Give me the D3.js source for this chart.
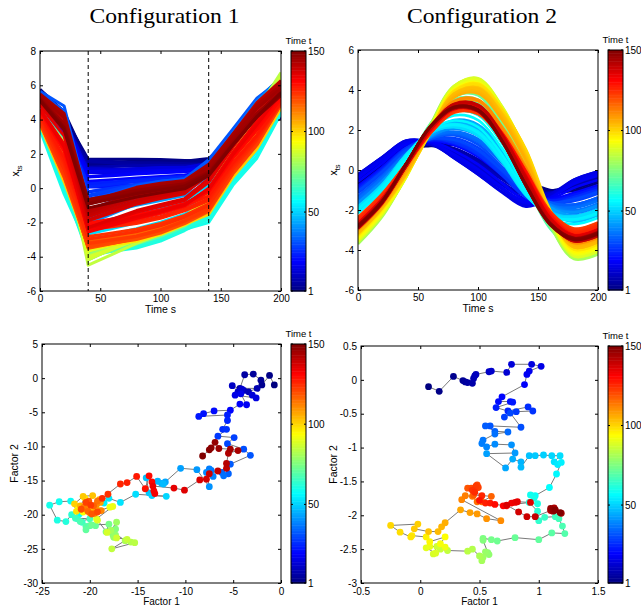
<!DOCTYPE html>
<html>
<head>
<meta charset="utf-8">
<script src="https://cdn.jsdelivr.net/npm/d3@7"></script>
<style>
  body { margin: 0; background: #fff; }
  svg text { font-family: "Liberation Sans", Arial, Helvetica, sans-serif; fill: #000; }
</style>
</head>
<body>
<svg id="chart" width="641" height="605"></svg>
<script>
// ---- data -----------------------------------------------------------------
// functional argument s (knots of the component curves)
const sGrid = [0, 20, 40, 60, 80, 100, 120, 140, 160, 180, 200];

// configuration 1: mean curve and factor loadings on the s grid
const c1Mean  = [5.82, 4.54, 1.66, 1.72, 1.79, 1.79, 1.72, 1.82, 2.97, 4.21, 4.79];
const c1LoadA = [0.113, 0.28, 0.048, 0.088, 0.128, 0.133, 0.116, 0.188, 0.189, 0.22, 0.156];
const c1LoadB = [-0.017, -0.102, 0.212, 0.161, 0.110, 0.085, 0.071, -0.039, -0.095, -0.154, -0.18];

// configuration 2: mean curve and factor loadings on the s grid
const c2Mean  = [-0.5, 0.4, 1.05, 1.15, 1.15, 0.7, 0.05, -0.5, -0.9, -0.8, -0.4];
const c2LoadA = [0, 0, 0.3, 0.3, -0.3, -0.6, -0.9, -1.2, -0.6, 0, 0];
const c2LoadB = [1.2, 1.03, 0.57, -0.34, -1.2, -1.54, -1.26, -0.57, 0.57, 1.37, 1.43];

// factor scores for t = 1..150, configuration 1
const c1Factor1 = [
  -0.7,-1.2,-2.0,-2.1,-2.9,-3.8,-4.3,-2.5,-3.4,-3.9,
  -5.1,-4.5,-4.1,-3.0,-2.6,-4.8,-4.2,-3.6,-4.3,-5.3,
  -7.0,-8.1,-8.6,-5.6,-5.6,-6.1,-5.7,-6.6,-4.9,-5.6,
  -3.9,-3.2,-5.3,-5.5,-6.2,-6.0,-7.3,-7.5,-7.1,-7.8,
  -7.5,-8.8,-10.5,-12.1,-12.5,-12.9,-12.3,-14.1,-13.8,-13.5,
  -12.0,-15.2,-16.8,-18.0,-18.5,-20.0,-21.1,-22.0,-23.2,-24.2,
  -23.4,-22.5,-21.9,-21.3,-20.8,-21.5,-20.0,-21.0,-20.4,-20.0,
  -20.4,-19.4,-19.8,-18.0,-18.3,-17.3,-17.6,-17.3,-17.5,-17.2,
  -17.8,-16.3,-15.7,-15.3,-17.7,-16.1,-17.2,-18.2,-19.2,-19.3,
  -17.6,-17.9,-19.0,-20.7,-21.2,-19.6,-20.5,-21.4,-20.2,-19.8,
  -21.6,-20.7,-19.7,-20.3,-21.0,-19.4,-19.0,-18.9,-20.4,-20.0,
  -19.3,-18.8,-20.6,-19.5,-19.2,-20.2,-19.6,-20.1,-19.8,-20.9,
  -19.2,-20.4,-19.9,-18.1,-18.7,-16.8,-16.1,-15.1,-14.2,-13.8,
  -13.5,-13.3,-13.2,-13.4,-11.2,-10.1,-8.5,-7.8,-7.5,-6.6,
  -5.7,-5.7,-5.5,-4.5,-5.3,-6.5,-6.9,-7.3,-7.5,-8.2
];
const c1Factor2 = [
  -1.0,0.4,-1.0,-0.3,0.6,0.5,-1.5,-1.5,-2.0,-1.8,
  -1.1,-2.0,-1.6,-2.5,-2.9,-2.5,-2.3,-3.9,-3.8,-4.7,
  -4.8,-5.2,-5.6,-5.4,-6.2,-7.5,-7.5,-8.5,-8.7,-9.6,
  -10.4,-11.3,-12.6,-14.0,-13.8,-14.3,-13.5,-13.3,-14.4,-13.8,
  -15.9,-13.4,-13.2,-15.2,-15.4,-15.1,-15.5,-14.6,-16.8,-17.2,
  -17.3,-17.0,-18.2,-17.6,-18.3,-19.2,-19.9,-18.0,-18.1,-18.6,
  -20.8,-21.0,-20.0,-20.6,-21.1,-20.5,-20.6,-21.0,-21.7,-21.6,
  -22.2,-21.6,-21.5,-21.4,-22.5,-22.1,-22.9,-23.0,-23.3,-21.1,
  -22.3,-23.8,-24.0,-24.1,-25.0,-23.6,-23.4,-22.6,-20.8,-20.6,
  -18.8,-18.9,-19.4,-19.6,-19.0,-19.3,-17.6,-19.5,-18.6,-18.9,
  -18.4,-17.3,-17.2,-18.4,-18.7,-19.0,-17.8,-18.2,-19.1,-19.7,
  -18.5,-19.4,-18.9,-19.8,-18.0,-19.5,-18.7,-18.0,-19.9,-19.2,
  -19.6,-18.2,-18.6,-17.0,-17.6,-15.5,-15.3,-14.4,-16.2,-14.3,
  -15.2,-16.5,-16.9,-15.8,-16.1,-16.4,-14.9,-14.8,-14.0,-13.6,
  -13.2,-12.5,-11.0,-10.6,-10.4,-10.3,-9.4,-10.2,-10.5,-11.4
];

// factor scores for t = 1..150, configuration 2
const c2Factor1 = [
  0.07,0.16,0.28,0.36,0.38,0.40,0.44,0.45,0.46,0.47,
  0.58,0.60,0.73,0.77,0.94,1.02,0.92,0.90,0.88,0.69,
  0.66,0.76,0.78,0.64,0.74,0.91,0.95,0.81,0.71,0.76,
  0.85,0.59,0.55,0.63,0.74,0.63,0.53,0.52,0.56,0.63,
  0.77,0.80,0.56,0.72,0.78,0.85,0.85,0.92,0.97,1.04,
  1.11,1.18,1.13,1.16,1.19,1.15,1.09,0.97,0.93,0.96,
  0.99,0.92,0.99,1.00,1.05,1.14,1.17,1.20,1.22,1.11,
  1.00,0.80,0.65,0.60,0.53,0.53,0.57,0.58,0.55,0.53,
  0.52,0.50,0.44,0.40,0.23,0.17,0.14,0.11,0.13,0.05,
  0.08,0.21,0.17,0.21,0.08,0.05,-0.07,-0.08,-0.17,-0.25,
  -0.02,-0.05,0.07,0.15,0.18,0.21,0.34,0.42,0.48,0.56,
  0.68,0.35,0.38,0.44,0.48,0.52,0.60,0.45,0.40,0.43,
  0.48,0.49,0.47,0.44,0.46,0.52,0.55,0.59,0.50,0.63,
  0.73,0.70,0.77,0.80,0.82,0.93,0.73,0.83,0.90,0.97,
  1.10,1.12,1.13,1.11,1.19,1.12,1.10,1.13,1.14,1.18
];
const c2Factor2 = [
  -0.10,-0.17,0.05,-0.01,-0.03,-0.04,-0.05,0.02,0.06,0.08,
  0.12,0.13,0.11,0.23,0.23,0.20,0.13,0.08,-0.07,-0.25,
  -0.32,-0.32,-0.33,-0.41,-0.46,-0.40,-0.46,-0.47,-0.55,-0.49,
  -0.70,-0.68,-0.68,-0.76,-0.77,-0.80,-0.89,-0.94,-0.99,-0.95,
  -0.96,-1.08,-1.09,-1.30,-1.17,-1.21,-1.29,-1.12,-1.12,-1.11,
  -1.12,-1.12,-1.21,-1.25,-1.22,-1.39,-1.59,-1.71,-1.70,-1.75,
  -1.83,-1.81,-1.94,-2.08,-2.03,-2.02,-2.05,-2.16,-2.27,-2.26,
  -2.36,-2.33,-2.38,-2.36,-2.34,-2.37,-2.55,-2.58,-2.54,-2.62,
  -2.67,-2.60,-2.50,-2.53,-2.52,-2.50,-2.46,-2.57,-2.56,-2.48,
  -2.46,-2.47,-2.42,-2.32,-2.39,-2.32,-2.30,-2.32,-2.25,-2.15,
  -2.13,-2.20,-2.24,-2.24,-2.17,-2.11,-1.92,-1.96,-1.98,-2.05,
  -2.08,-1.77,-1.71,-1.72,-1.80,-1.80,-1.72,-1.70,-1.60,-1.60,
  -1.55,-1.59,-1.57,-1.63,-1.66,-1.71,-1.82,-1.82,-1.78,-1.84,
  -1.86,-1.86,-1.82,-1.81,-1.80,-1.81,-1.85,-1.95,-2.02,-2.02,
  -1.93,-1.91,-1.89,-1.92,-1.97,-1.94,-1.90,-1.93,-1.92,-1.96
];

// axis ticks
const sTicks       = [0, 50, 100, 150, 200];
const c1CurveTicks = [-6, -4, -2, 0, 2, 4, 6, 8];
const c2CurveTicks = [-6, -4, -2, 0, 2, 4, 6];
const c1F1Ticks    = [-25, -20, -15, -10, -5, 0];
const c1F2Ticks    = [-30, -25, -20, -15, -10, -5, 0, 5];
const c2F1Ticks    = [-0.5, 0, 0.5, 1, 1.5];
const c2F2Ticks    = [-3, -2.5, -2, -1.5, -1, -0.5, 0, 0.5];
const timeTicks    = [1, 50, 100, 150];
const c1Breaks     = [40, 140];
const titles       = ["Configuration 1", "Configuration 2"];

// ---- drawing --------------------------------------------------------------
const svg = d3.select("#chart");
const T = d3.range(1, 151);

// MATLAB "jet" colormap over t = 1..150
const jet = d3.scaleLinear()
  .domain([0, 0.125, 0.375, 0.625, 0.875, 1].map(p => 1 + 149 * p))
  .range(["#000080", "#0000ff", "#00ffff", "#ffff00", "#ff0000", "#800000"])
  .clamp(true);

const fmt = d => String(d);

function axesFrame(box, x, y, xTicks, yTicks, pad) {
  const g = svg.append("g");
  const style = sel => {
    sel.select(".domain").remove();
    sel.attr("font-family", null).attr("font-size", null);
    sel.selectAll("line").attr("stroke", "#000");
    sel.selectAll("text").attr("font-size", 10);
  };
  g.append("g").attr("transform", `translate(0,${box.y1})`)
    .call(d3.axisBottom(x).tickValues(xTicks).tickSize(-3).tickPadding(pad).tickFormat(fmt)).call(style);
  g.append("g").attr("transform", `translate(0,${box.y0})`)
    .call(d3.axisTop(x).tickValues(xTicks).tickSize(-3).tickFormat("")).call(style);
  g.append("g").attr("transform", `translate(${box.x0},0)`)
    .call(d3.axisLeft(y).tickValues(yTicks).tickSize(-3).tickPadding(4).tickFormat(fmt)).call(style);
  g.append("g").attr("transform", `translate(${box.x1},0)`)
    .call(d3.axisRight(y).tickValues(yTicks).tickSize(-3).tickFormat("")).call(style);
  g.append("rect")
    .attr("x", box.x0).attr("y", box.y0)
    .attr("width", box.x1 - box.x0).attr("height", box.y1 - box.y0)
    .attr("fill", "none").attr("stroke", "#000").attr("stroke-width", 1);
}

function colorbar(cb) {
  const g = svg.append("g");
  const ty = d3.scaleLinear().domain([1, 150]).range([cb.y1, cb.y0]);
  g.selectAll("rect.cell").data(T.slice(0, 149)).join("rect")
    .attr("x", cb.x0).attr("width", cb.x1 - cb.x0)
    .attr("y", t => ty(t + 1)).attr("height", t => ty(t) - ty(t + 1) + 0.5)
    .attr("fill", t => jet(t + 0.5));
  g.append("rect")
    .attr("x", cb.x0).attr("y", cb.y0)
    .attr("width", cb.x1 - cb.x0).attr("height", cb.y1 - cb.y0)
    .attr("fill", "none").attr("stroke", "#000");
  g.selectAll("line.tl").data(timeTicks).join("line")
    .attr("x1", cb.x0).attr("x2", cb.x0 + 2)
    .attr("y1", ty).attr("y2", ty).attr("stroke", "#000");
  g.selectAll("line.tr").data(timeTicks).join("line")
    .attr("x1", cb.x1 - 2).attr("x2", cb.x1)
    .attr("y1", ty).attr("y2", ty).attr("stroke", "#000");
  g.selectAll("text.tk").data(timeTicks).join("text")
    .attr("x", cb.x1 + 2).attr("y", ty).attr("dy", "0.35em")
    .attr("font-size", 10).text(fmt);
  g.append("text")
    .attr("x", (cb.x0 + cb.x1) / 2).attr("y", cb.y0 - 7)
    .attr("text-anchor", "middle").attr("font-size", 9.5).text("Time t");
}

function yLabel(x, y, build) {
  const t = svg.append("text")
    .attr("transform", `translate(${x},${y}) rotate(-90)`)
    .attr("text-anchor", "middle").attr("font-size", 10.5);
  build(t);
}

function xLabel(x, y, txt, size) {
  svg.append("text").attr("x", x).attr("y", y)
    .attr("text-anchor", "middle").attr("font-size", size).text(txt);
}

// panels: functional curves (top) and factor scores (bottom)
const panels = [
  { box: { x0: 40, x1: 281, y0: 51, y1: 291 }, cb: { x0: 291, x1: 306, y0: 51, y1: 291 },
    mean: c1Mean, la: c1LoadA, lb: c1LoadB, f1: c1Factor1, f2: c1Factor2, width: 3,
    yDom: [-6, 8], yTicks: c1CurveTicks, breaks: c1Breaks, title: titles[0], shape: d3.curveLinear },
  { box: { x0: 358, x1: 598, y0: 50, y1: 290 }, cb: { x0: 608, x1: 623, y0: 50, y1: 290 },
    mean: c2Mean, la: c2LoadA, lb: c2LoadB, f1: c2Factor1, f2: c2Factor2, width: 2.6,
    yDom: [-6, 6], yTicks: c2CurveTicks, breaks: [], title: titles[1], shape: d3.curveCatmullRom }
];

panels.forEach((p, i) => {
  const b = p.box;
  const x = d3.scaleLinear().domain([0, 200]).range([b.x0, b.x1]);
  const y = d3.scaleLinear().domain(p.yDom).range([b.y1, b.y0]);
  const clipId = "clipTop" + i;
  svg.append("clipPath").attr("id", clipId).append("rect")
    .attr("x", b.x0).attr("y", b.y0).attr("width", b.x1 - b.x0).attr("height", b.y1 - b.y0);

  // curve for time t: mean + f1_t * loadingA + f2_t * loadingB
  const curve = t => sGrid.map((s, k) => [s, p.mean[k] + p.f1[t - 1] * p.la[k] + p.f2[t - 1] * p.lb[k]]);
  const line = d3.line().curve(p.shape).x(d => x(d[0])).y(d => y(d[1]));
  svg.append("g").attr("clip-path", `url(#${clipId})`)
    .selectAll("path").data(T).join("path")
    .attr("d", t => line(curve(t)))
    .attr("fill", "none").attr("stroke", t => jet(t))
    .attr("stroke-width", p.width).attr("stroke-linejoin", "round");

  svg.append("g").selectAll("line").data(p.breaks).join("line")
    .attr("x1", d => x(d)).attr("x2", d => x(d))
    .attr("y1", b.y0).attr("y2", b.y1)
    .attr("stroke", "#000").attr("stroke-width", 1).attr("stroke-dasharray", "4,3");

  axesFrame(b, x, y, sTicks, p.yTicks, 3.9);
  colorbar(p.cb);
  xLabel((b.x0 + b.x1) / 2, b.y1 + 21.5, "Time s", 10.5);
  yLabel(b.x0 - 21, (b.y0 + b.y1) / 2, t => {
    t.append("tspan").text("x");
    t.append("tspan").attr("font-size", 7.5).attr("dy", 3).text("ts");
  });
  svg.append("text")
    .attr("x", (b.x0 + b.x1) / 2 + 4).attr("y", 23)
    .attr("text-anchor", "middle")
    .style("font-family", '"Liberation Serif", "Times New Roman", serif')
    .attr("font-size", 21)
    .attr("textLength", 150).attr("lengthAdjust", "spacingAndGlyphs")
    .text(p.title);
});

const scorePanels = [
  { box: { x0: 42, x1: 281, y0: 344, y1: 583 }, cb: { x0: 291, x1: 306, y0: 344, y1: 583 },
    f1: c1Factor1, f2: c1Factor2, xDom: [-25, 0], yDom: [-30, 5], xTicks: c1F1Ticks, yTicks: c1F2Ticks },
  { box: { x0: 361, x1: 598, y0: 346, y1: 583 }, cb: { x0: 608, x1: 623, y0: 346, y1: 583 },
    f1: c2Factor1, f2: c2Factor2, xDom: [-0.5, 1.5], yDom: [-3, 0.5], xTicks: c2F1Ticks, yTicks: c2F2Ticks }
];

scorePanels.forEach(p => {
  const b = p.box;
  const x = d3.scaleLinear().domain(p.xDom).range([b.x0, b.x1]);
  const y = d3.scaleLinear().domain(p.yDom).range([b.y1, b.y0]);
  const pts = T.map(t => ({ t, a: p.f1[t - 1], b: p.f2[t - 1] }));
  svg.append("path")
    .attr("d", d3.line().x(d => x(d.a)).y(d => y(d.b))(pts))
    .attr("fill", "none").attr("stroke", "#7a7a7a").attr("stroke-width", 1);
  svg.append("g").selectAll("circle").data(pts).join("circle")
    .attr("cx", d => x(d.a)).attr("cy", d => y(d.b)).attr("r", 3.4)
    .attr("fill", d => jet(d.t));
  axesFrame(b, x, y, p.xTicks, p.yTicks, 4.9);
  colorbar(p.cb);
  xLabel((b.x0 + b.x1) / 2, b.y1 + 21.5, "Factor 1", 10);
  yLabel(b.x0 - 24, (b.y0 + b.y1) / 2, t => t.text("Factor 2"));
});
</script>
</body>
</html>
